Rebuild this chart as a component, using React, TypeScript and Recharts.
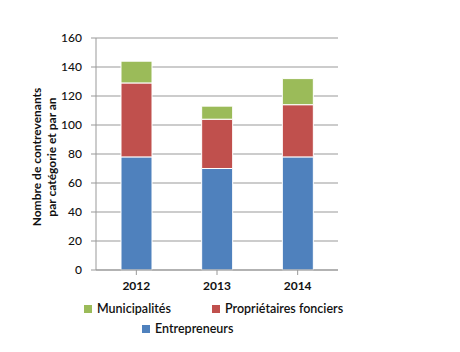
import React from 'react';
import { BarChart, Bar, XAxis, YAxis, CartesianGrid, Legend } from 'recharts';

const years = ['2012', '2013', '2014'];
const entrepreneurs = [78, 70, 78];
const proprietaires = [51, 34, 36];
const municipalites = [15, 9, 18];
const yTicks = [0, 20, 40, 60, 80, 100, 120, 140, 160];

const data = years.map((y, i) => ({
  year: y,
  entrepreneurs: entrepreneurs[i],
  proprietaires: proprietaires[i],
  municipalites: municipalites[i],
}));

const BLUE = '#4F81BD';
const RED = '#C0504D';
const GREEN = '#9BBB59';
const FONT = 'Lato, "Open Sans", sans-serif';

const legendItem = (color: string, label: string, left: number, top: number) => (
  <div key={label} style={{ position: 'absolute', left, top, display: 'flex', alignItems: 'center' }}>
    <div style={{ width: 8, height: 8, background: color, marginRight: 5 }} />
    <span style={{ fontFamily: FONT, fontSize: 12.5, fontWeight: 600, color: '#111', whiteSpace: 'nowrap' }}>{label}</span>
  </div>
);

const LegendContent = () => (
  <div style={{ position: 'relative', width: 460, height: 40 }}>
    {legendItem(GREEN, 'Municipalités', 84, 3)}
    {legendItem(RED, 'Propriétaires fonciers', 212, 3)}
    {legendItem(BLUE, 'Entrepreneurs', 142, 23)}
  </div>
);

const YLabel = () => (
  <g>
    <text transform="translate(41,157) rotate(-90)" textAnchor="middle" fontFamily={FONT} fontSize={12} fontWeight={700} fill="#111">
      Nombre de contrevenants
    </text>
    <text transform="translate(56,157) rotate(-90)" textAnchor="middle" fontFamily={FONT} fontSize={12} fontWeight={700} fill="#111">
      par catégorie et par an
    </text>
  </g>
);

export default function App() {
  return (
    <div style={{ position: 'absolute', left: 0, top: 0, width: 460, height: 352, background: '#fff' }}>
      <BarChart
        width={460}
        height={352}
        data={data}
        margin={{ top: 38, right: 122, bottom: 12, left: 0 }}
        barSize={31}
      >
        <CartesianGrid vertical={false} stroke="#999" strokeWidth={1} />
        <XAxis
          dataKey="year"
          height={30}
          stroke="#999"
          tickLine={{ stroke: '#999' }}
          tick={{ fill: '#111', fontFamily: FONT, fontSize: 12, fontWeight: 700 }}
          tickSize={5}
          tickMargin={6}
        />
        <YAxis
          width={96}
          domain={[0, 160]}
          ticks={yTicks}
          interval={0}
          stroke="#999"
          tickLine={{ stroke: '#999' }}
          tick={{ fill: '#111', fontFamily: FONT, fontSize: 12, fontWeight: 500 }}
          tickSize={5}
          tickMargin={9}
          label={<YLabel />}
        />
        <Legend
          verticalAlign="bottom"
          content={<LegendContent />}
          wrapperStyle={{ left: 0, top: 298, width: 460, height: 40 }}
        />
        <Bar dataKey="entrepreneurs" stackId="a" fill={BLUE} stroke="#fff" strokeWidth={1} isAnimationActive={false} />
        <Bar dataKey="proprietaires" stackId="a" fill={RED} stroke="#fff" strokeWidth={1} isAnimationActive={false} />
        <Bar dataKey="municipalites" stackId="a" fill={GREEN} stroke="#fff" strokeWidth={1} isAnimationActive={false} />
      </BarChart>
    </div>
  );
}
